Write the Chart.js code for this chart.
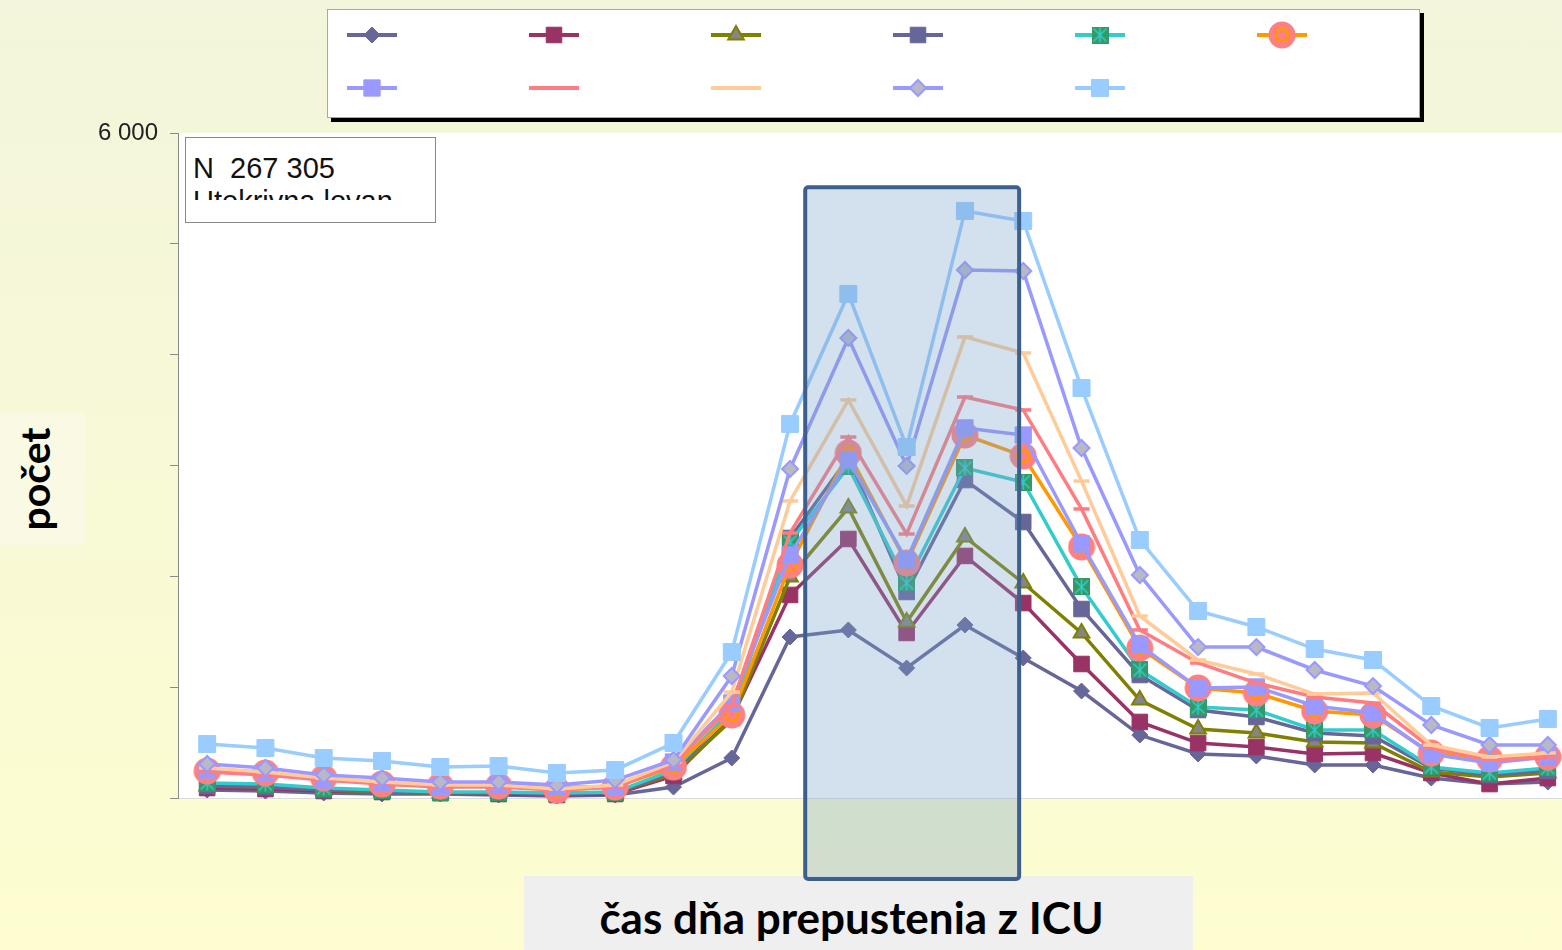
<!DOCTYPE html>
<html>
<head>
<meta charset="utf-8">
<title>počet podľa času prepustenia z ICU</title>
<script src="https://cdn.jsdelivr.net/npm/chart.js@4.4.1/dist/chart.umd.min.js"></script>
<style>
  html, body { margin: 0; padding: 0; width: 1562px; height: 950px; overflow: hidden; }
  body { position: relative; background: linear-gradient(#f3f5dc, #fdfdd0); font-family: "Liberation Sans", Arial, sans-serif; }
  #ylab { position: absolute; left: 0; top: 413px; width: 85px; height: 132px; background: #fafae4; }
  #ylab span { position: absolute; left: 34px; top: 50%; transform: translate(-50%, -50%) rotate(-90deg);
               font: bold 41px "Lato", "Open Sans", sans-serif; white-space: nowrap; color: #000; }
  #xlab { position: absolute; left: 524px; top: 876px; width: 669px; height: 74px; background: #efefef;
          box-sizing: border-box; padding: 19px 14px 0 0; text-align: center; font: bold 44px/44px "Lato", "Open Sans", sans-serif; color: #000; }
  #chart { position: absolute; left: 0; top: 0; }
  #nbox { position: absolute; left: 185px; top: 137px; width: 249px; height: 84px; border: 1px solid #8a8a8a; background: #fff; }
  #nbox div { position: absolute; left: 7px; top: 14px; height: 48px; overflow: hidden;
              font: 29px/33px "Liberation Sans", Arial, sans-serif; color: #111; white-space: pre; }
</style>
</head>
<body>
<div id="ylab"><span>počet</span></div>
<div id="xlab">čas dňa prepustenia z ICU</div>
<canvas id="chart" width="1600" height="950"></canvas>
<div id="nbox"><div>N  267 305
Utekrivna lovan</div></div>

<script>
// Hour of the day at discharge
const hours = ['0','1','2','3','4','5','6','7','8','9','10','11',
               '12','13','14','15','16','17','18','19','20','21','22','23'];

// Y axis tick values (only the top one carries a label)
const yTicks = [0, 1000, 2000, 3000, 4000, 5000, 6000];

// Counts per hour, one array per series
const s1  = [72, 63, 45, 36, 36, 27, 18, 27, 99, 361, 1453, 1516, 1173, 1561, 1263, 965, 568, 397, 379, 298, 298, 180, 126, 144];
const s2  = [90, 81, 63, 54, 45, 36, 27, 36, 199, 722, 1832, 2337, 1489, 2184, 1759, 1209, 686, 496, 460, 397, 406, 226, 126, 180];
const s3  = [108, 99, 72, 54, 45, 45, 36, 45, 217, 704, 1994, 2617, 1588, 2355, 1940, 1489, 884, 623, 587, 505, 496, 235, 189, 226];
const s4  = [108, 99, 72, 63, 45, 45, 36, 45, 235, 776, 2346, 3068, 1859, 2869, 2490, 1705, 1110, 794, 731, 587, 559, 271, 208, 244];
const s5  = [135, 126, 90, 72, 54, 54, 45, 54, 253, 794, 2310, 2987, 1940, 2978, 2851, 1904, 1155, 821, 794, 614, 614, 280, 226, 271];
const s6  = [244, 226, 180, 126, 108, 108, 72, 99, 280, 749, 2102, 3113, 2120, 3275, 3086, 2265, 1353, 993, 947, 785, 749, 406, 352, 370];
const s7  = [253, 226, 162, 135, 99, 117, 99, 99, 325, 857, 2193, 3050, 2147, 3339, 3275, 2292, 1380, 993, 1002, 830, 767, 397, 316, 370];
const s8  = [235, 208, 162, 126, 99, 99, 72, 99, 298, 839, 2391, 3257, 2382, 3618, 3501, 2608, 1516, 1218, 1037, 911, 857, 451, 343, 370];
const s9  = [271, 235, 180, 144, 117, 117, 81, 117, 325, 956, 2680, 3591, 2635, 4160, 4015, 2860, 1642, 1245, 1119, 938, 947, 478, 370, 406];
const s10 = [307, 271, 208, 180, 144, 144, 117, 162, 343, 1101, 2969, 4151, 2996, 4764, 4755, 3158, 2012, 1362, 1362, 1155, 1010, 659, 478, 478];
const s11 = [487, 451, 361, 334, 280, 289, 226, 253, 496, 1317, 3375, 4548, 3167, 5297, 5206, 3699, 2328, 1687, 1543, 1344, 1245, 830, 632, 713];

// Marker: green square crossed by a teal asterisk
function boxStarMarker() {
  const c = document.createElement('canvas');
  c.width = 17; c.height = 17;
  const g = c.getContext('2d');
  g.fillStyle = '#339966';
  g.fillRect(0, 0, 17, 17);
  g.strokeStyle = '#33cccc';
  g.lineWidth = 1.6;
  g.beginPath();
  g.moveTo(2, 2); g.lineTo(15, 15);
  g.moveTo(15, 2); g.lineTo(2, 15);
  g.moveTo(8.5, 1); g.lineTo(8.5, 16);
  g.stroke();
  return c;
}

// Marker: large salmon disc with an orange ring inside
function ringDiscMarker() {
  const c = document.createElement('canvas');
  c.width = 28; c.height = 28;
  const g = c.getContext('2d');
  g.fillStyle = '#ff8080';
  g.beginPath(); g.arc(14, 14, 13.5, 0, Math.PI * 2); g.fill();
  g.strokeStyle = '#ff9900';
  g.lineWidth = 2.5;
  g.beginPath(); g.arc(14, 14, 6, 0, Math.PI * 2); g.stroke();
  return c;
}

function series(data, line, style, radius, fill, border, bw, order) {
  return {
    data: data,
    borderColor: line,
    borderWidth: 3.5,
    pointStyle: style,
    pointRadius: radius,
    pointBackgroundColor: fill,
    pointBorderColor: border,
    pointBorderWidth: bw,
    tension: 0,
    fill: false,
    clip: false,
    order: order
  };
}

const datasets = [
  series(s1,  '#666699', 'rectRot',  8,   '#666699', '#666699', 1,   11),
  series(s2,  '#993366', 'rect',     11,  '#993366', '#993366', 1,   10),
  series(s3,  '#808000', 'triangle', 9,   '#858585', '#808000', 2,   9),
  series(s4,  '#666699', 'rect',     11,  '#666699', '#666699', 1,   8),
  series(s5,  '#33cccc', boxStarMarker(), 8, '#339966', '#33cccc', 1, 7),
  series(s6,  '#ff9900', ringDiscMarker(), 13, '#ff8080', '#ff8080', 1, 6),
  series(s7,  '#9999ff', 'rect',     11.5,'#9999ff', '#9999ff', 1,   5),
  series(s8,  '#ff7c80', 'line',     8,   '#ff7c80', '#ff7c80', 3.5, 4),
  series(s9,  '#ffcc99', 'line',     8,   '#ffcc99', '#ffcc99', 3.5, 3),
  series(s10, '#9999ff', 'rectRot',  8,   '#b8b8c6', '#9999ff', 2,   2),
  series(s11, '#99ccff', 'rect',     12,  '#99ccff', '#99ccff', 1,   1)
];

// White plot background
const plotBackground = {
  id: 'plotBackground',
  beforeDraw(chart) {
    const a = chart.chartArea, ctx = chart.ctx;
    ctx.save();
    ctx.fillStyle = '#ffffff';
    ctx.fillRect(a.left, a.top, chart.width - a.left, a.bottom - a.top);
    ctx.restore();
  }
};

// Translucent frame over the midday hours
const middayFrame = {
  id: 'middayFrame',
  afterDatasetsDraw(chart, args, opts) {
    const xs = chart.scales.x, ys = chart.scales.y, ctx = chart.ctx;
    const x1 = xs.getPixelForValue(opts.from), x2 = xs.getPixelForValue(opts.to);
    const y1 = ys.getPixelForValue(opts.top), y2 = ys.getPixelForValue(opts.bottom);
    ctx.save();
    ctx.beginPath();
    ctx.roundRect(x1, y1, x2 - x1, y2 - y1, 3);
    ctx.fillStyle = 'rgba(120,160,200,0.33)';
    ctx.fill();
    ctx.lineWidth = 4;
    ctx.strokeStyle = '#3d5f8c';
    ctx.stroke();
    ctx.restore();
  }
};

// Legend box with line + marker samples (no text)
const sampleLegend = {
  id: 'sampleLegend',
  afterDraw(chart, args, o) {
    const ctx = chart.ctx;
    ctx.save();
    ctx.fillStyle = '#000';
    ctx.fillRect(o.x + 4, o.y + 4, o.w, o.h);
    ctx.fillStyle = '#fff';
    ctx.fillRect(o.x, o.y, o.w, o.h);
    ctx.strokeStyle = '#a8a8a8';
    ctx.lineWidth = 1;
    ctx.strokeRect(o.x + 0.5, o.y + 0.5, o.w - 1, o.h - 1);
    chart.data.datasets.forEach((ds, i) => {
      const col = i % o.perRow, row = Math.floor(i / o.perRow);
      const cx = o.x + o.firstX + col * o.colGap;
      const cy = o.y + o.firstY + row * o.rowGap;
      ctx.strokeStyle = ds.borderColor;
      ctx.lineWidth = 4;
      ctx.beginPath();
      ctx.moveTo(cx - 25, cy);
      ctx.lineTo(cx + 25, cy);
      ctx.stroke();
      ctx.fillStyle = ds.pointBackgroundColor;
      ctx.strokeStyle = ds.pointBorderColor;
      ctx.lineWidth = ds.pointBorderWidth;
      Chart.helpers.drawPoint(ctx, {
        pointStyle: ds.pointStyle, radius: ds.pointRadius,
        borderWidth: ds.pointBorderWidth, rotation: 0
      }, cx, cy);
    });
    ctx.restore();
  }
};

new Chart(document.getElementById('chart'), {
  type: 'line',
  data: { labels: hours, datasets: datasets },
  plugins: [plotBackground, middayFrame, sampleLegend],
  options: {
    responsive: false,
    animation: false,
    events: [],
    layout: { padding: { left: 0, top: 133, right: 23, bottom: 152 } },
    plugins: {
      legend: { display: false },
      tooltip: { enabled: false },
      middayFrame: { from: 10.26, to: 13.93, top: 5510, bottom: -730 },
      sampleLegend: { x: 327, y: 9, w: 1093, h: 109, perRow: 6,
                      firstX: 45, firstY: 26, colGap: 182, rowGap: 53 }
    },
    scales: {
      x: {
        offset: true,
        grid: { display: false },
        ticks: { display: false },
        border: { display: true, color: '#dcdcdc', width: 1 },
        afterFit(s) { s.height = 0; }
      },
      y: {
        min: 0,
        max: 6000,
        afterBuildTicks(s) { s.ticks = yTicks.map(v => ({ value: v })); },
        ticks: {
          padding: 12,
          color: '#222',
          font: { family: '"Liberation Sans", Arial, sans-serif', size: 24 },
          callback: v => (v === 6000 ? '6 000' : '')
        },
        grid: { drawOnChartArea: false, tickLength: 8, color: '#8a8a8a', lineWidth: 1 },
        border: { display: true, color: '#8a8a8a', width: 1 },
        afterFit(s) { s.width = 178; }
      }
    }
  }
});
</script>
</body>
</html>
